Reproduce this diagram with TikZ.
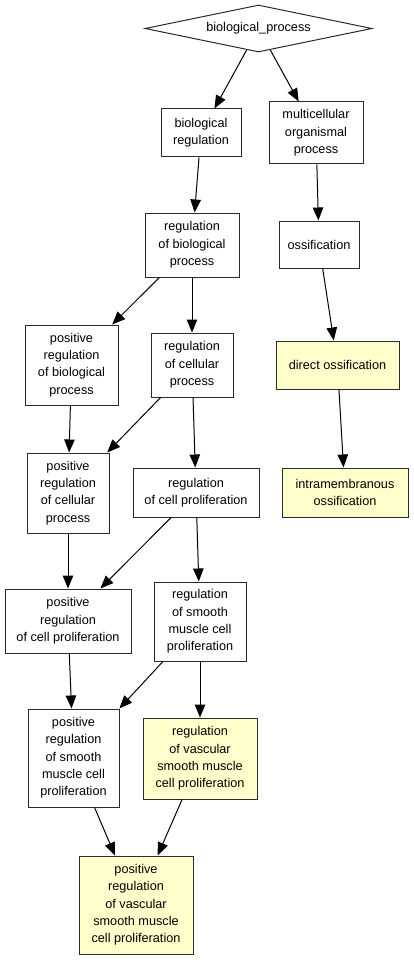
\documentclass[tikz,border=0pt]{standalone}
\usepackage{fontspec}
\setmainfont{Liberation Sans}
\usetikzlibrary{shapes.geometric,arrows.meta}
\definecolor{termfill}{HTML}{FFFFCC}
\definecolor{termline}{HTML}{2B2B2B}
\begin{document}
\begin{tikzpicture}[x=1pt,y=-1pt,
  term/.style={draw=termline,line width=1pt,fill=white,align=center,inner sep=0pt,font=\fontsize{12.7}{17.3}\selectfont},
  hit/.style={term,fill=termfill},
  isa/.style={-{Triangle[length=13pt,width=10.5pt]},line width=1pt,draw=black}]
\useasboundingbox (0,0) rectangle (413,960);
\node[term,shape=diamond,aspect=4.83,minimum width=227pt,minimum height=47pt] (bp) at (258.5,28.5) {biological\_process};
\node[term,minimum width=80pt,minimum height=48pt] (br) at (201,133) {biological\\regulation};
\node[term,minimum width=94pt,minimum height=62pt] (mop) at (316,133) {multicellular\\organismal\\process};
\node[term,minimum width=94pt,minimum height=64pt] (rbp) at (192,245) {regulation\\of biological\\process};
\node[term,minimum width=80pt,minimum height=47pt] (oss) at (319,244.5) {ossification};
\node[term,minimum width=93pt,minimum height=80pt] (prbp) at (71.5,365) {positive\\regulation\\of biological\\process};
\node[term,minimum width=82pt,minimum height=64pt] (rcp) at (192,365) {regulation\\of cellular\\process};
\node[hit,minimum width=123pt,minimum height=48pt] (dos) at (337.5,365) {direct ossification};
\node[term,minimum width=82pt,minimum height=80pt] (prcp) at (68,493) {positive\\regulation\\of cellular\\process};
\node[term,minimum width=126pt,minimum height=49pt] (rcpro) at (196,492.5) {regulation\\of cell proliferation};
\node[hit,minimum width=126pt,minimum height=49pt] (imo) at (345,492.5) {intramembranous\\ossification};
\node[term,minimum width=126pt,minimum height=64pt] (prcpro) at (68,621) {positive\\regulation\\of cell proliferation};
\node[term,minimum width=92pt,minimum height=79pt] (rsmc) at (200,621.5) {regulation\\of smooth\\muscle cell\\proliferation};
\node[term,minimum width=91pt,minimum height=98pt] (prsmc) at (73.5,758) {positive\\regulation\\of smooth\\muscle cell\\proliferation};
\node[hit,minimum width=114pt,minimum height=81pt] (rvsmc) at (200,758.5) {regulation\\of vascular\\smooth muscle\\cell proliferation};
\node[hit,minimum width=114pt,minimum height=98pt] (prvsmc) at (136,905) {positive\\regulation\\of vascular\\smooth muscle\\cell proliferation};
\draw[isa] (bp) -- (br);
\draw[isa] (bp) -- (mop);
\draw[isa] (br) -- (rbp);
\draw[isa] (mop) -- (oss);
\draw[isa] (rbp) -- (prbp);
\draw[isa] (rbp) -- (rcp);
\draw[isa] (oss) -- (dos);
\draw[isa] (prbp) -- (prcp);
\draw[isa] (rcp) -- (prcp);
\draw[isa] (rcp) -- (rcpro);
\draw[isa] (dos) -- (imo);
\draw[isa] (prcp) -- (prcpro);
\draw[isa] (rcpro) -- (prcpro);
\draw[isa] (rcpro) -- (rsmc);
\draw[isa] (prcpro) -- (prsmc);
\draw[isa] (rsmc) -- (prsmc);
\draw[isa] (rsmc) -- (rvsmc);
\draw[isa] (prsmc) -- (prvsmc);
\draw[isa] (rvsmc) -- (prvsmc);
\end{tikzpicture}
\end{document}
